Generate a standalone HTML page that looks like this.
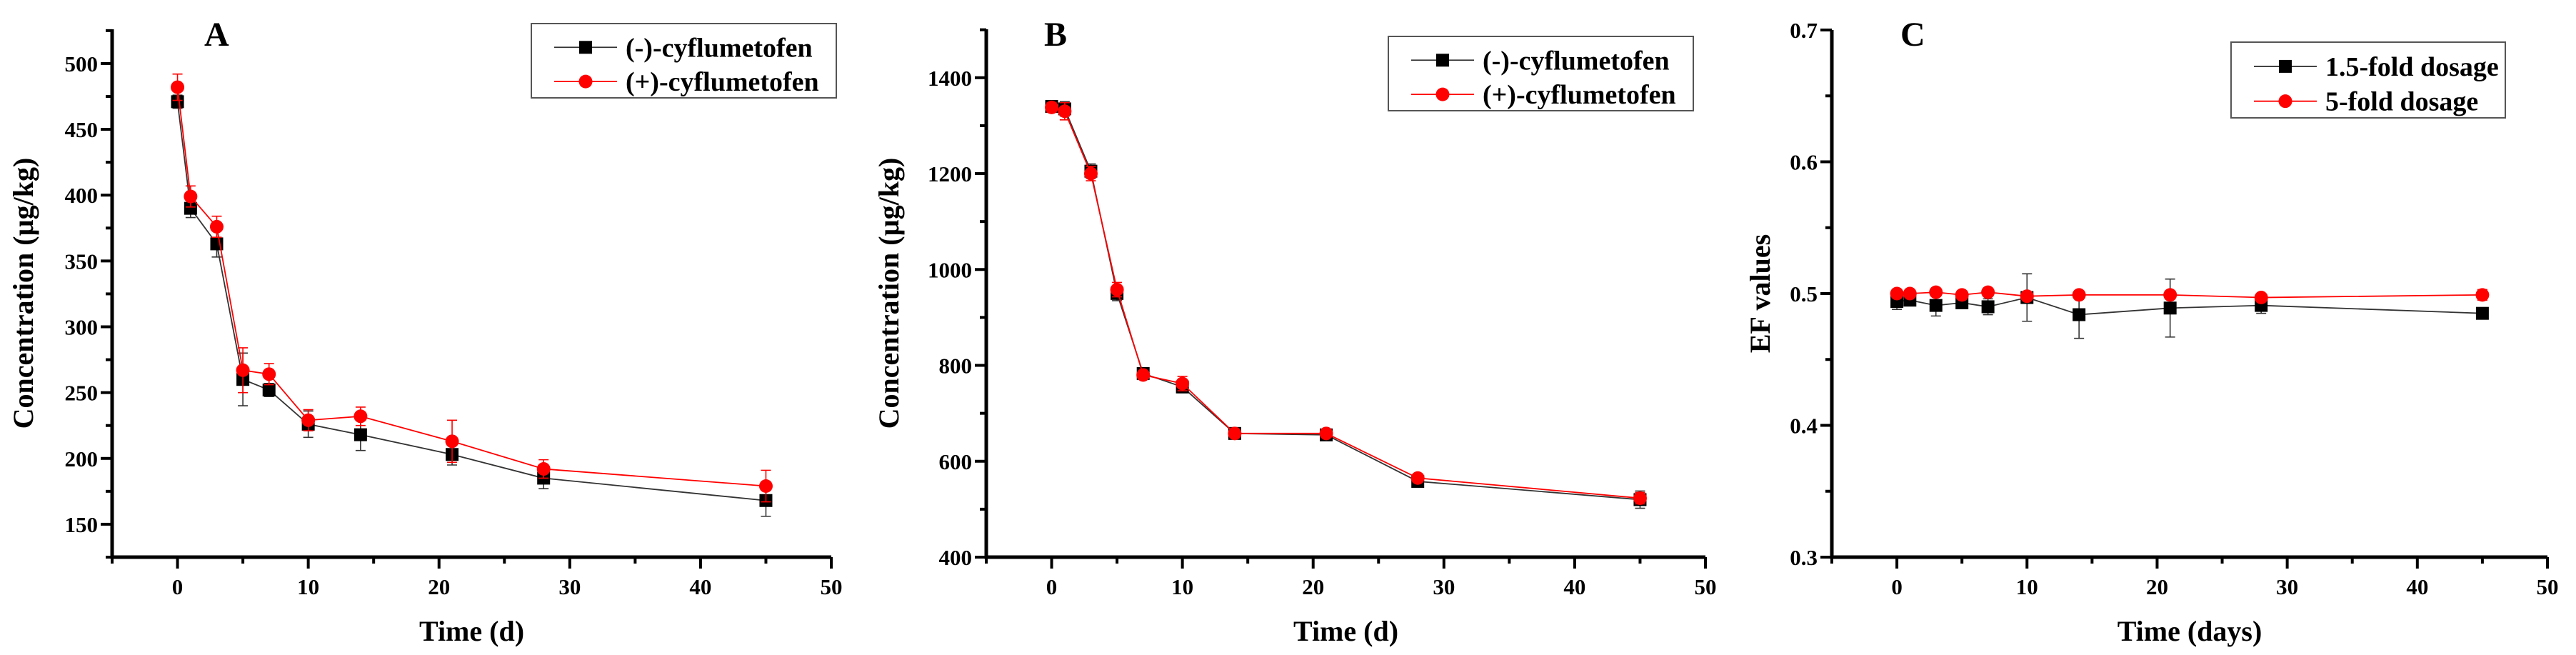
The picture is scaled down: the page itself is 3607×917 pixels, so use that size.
<!DOCTYPE html>
<html><head><meta charset="utf-8"><style>
body{margin:0;background:#fff}
svg{display:block;font-family:"Liberation Serif",serif;font-weight:bold}
</style></head><body>
<svg id="c" width="3607" height="917" viewBox="0 0 3607 917"></svg>
<script>
const days = [0,1,3,5,7,10,14,21,28,45];
const aMinus = [471,390,363,260,252,226,218,203,185,168];
const aMinusErr = [5,7,10,20,5,10,12,8,8,12];
const aPlus = [482,399,376,267,264,229,232,213,192,179];
const aPlusErr = [10,8,8,17,8,8,7,16,7,12];
const bMinus = [1340,1335,1205,950,783,755,658,655,558,520];
const bMinusErr = [10,15,15,15,10,12,8,8,8,18];
const bPlus = [1338,1330,1200,958,780,762,658,658,565,523];
const bPlusErr = [10,18,15,15,8,15,8,8,8,12];
const cLow = [0.494,0.495,0.491,0.493,0.490,0.497,0.484,0.489,0.491,0.485];
const cLowErr = [0.006,0.003,0.008,0.003,0.006,0.018,0.018,0.022,0.006,0];
const cHigh = [0.500,0.500,0.501,0.499,0.501,0.498,0.499,0.499,0.497,0.499];
const cHighErr = [0.002,0.002,0.002,0.002,0.002,0.003,0.002,0.002,0.002,0.004];
const xTicks = [0,10,20,30,40,50];
const aTicks = [150,200,250,300,350,400,450,500];
const bTicks = [400,600,800,1000,1200,1400];
const cTicks = [0.3,0.4,0.5,0.6,0.7];

const svg=document.getElementById('c');
const NS='http://www.w3.org/2000/svg';
function mk(tag,attrs,parent){const e=document.createElementNS(NS,tag);for(const k in attrs)e.setAttribute(k,attrs[k]);(parent||svg).appendChild(e);return e;}

function panel(o){
  const g=mk('g',{});
  
  
  const X=v=>o.x0+(v-(-5))/55*(o.x1-o.x0);
  const Y=v=>o.yb-(v-o.ymin)/(o.ymax-o.ymin)*(o.yb-o.yt);
  const ax=mk('path',{d:`M${o.x0} ${o.yt} V${o.yb} H${o.x1}`,fill:'none',stroke:'#000','stroke-width':5},g);
  
  
  for(let v=-5;v<=50;v+=5){
    const major=v%10===0;
    mk('line',{x1:X(v),x2:X(v),y1:o.yb,y2:o.yb+(major?16:9),stroke:'#000','stroke-width':4},g);
  }
  xTicks.forEach(v=>{const t=mk('text',{x:X(v),y:o.yb+52,'font-size':31,'text-anchor':'middle'},g);t.textContent=v;
    });
  const step=o.yt2-o.yt1;
  for(let v=o.ymin;v<=o.ymax+1e-9;v+=step/2){
    const major=Math.abs(((v-o.yt1)/step)-Math.round((v-o.yt1)/step))<1e-6;
    mk('line',{x1:o.x0,x2:o.x0-(major?16:9),y1:Y(v),y2:Y(v),stroke:'#000','stroke-width':4},g);
  }
  o.ticks.forEach(v=>{const t=mk('text',{x:o.x0-20,y:Y(v)+11,'font-size':31,'text-anchor':'end'},g);t.textContent=o.fmt?o.fmt(v):v;
    });
  const xt=mk('text',{x:(o.x0+o.x1)/2,y:897,'font-size':40,'text-anchor':'middle'},g);xt.textContent=o.xtitle;
  
  const yt=mk('text',{x:0,y:0,'font-size':40,'text-anchor':'middle',transform:`translate(${o.ytx},${(o.yt+o.yb)/2}) rotate(-90)`},g);yt.textContent=o.ytitle;
  
  const lt=mk('text',{x:o.lx,y:64,'font-size':48},g);lt.textContent=o.id;
  
  o.series.forEach((s,si)=>{
    const sg=mk('g',{},g);
    
    
    mk('polyline',{points:days.map((d,i)=>X(d)+','+Y(s.vals[i])).join(' '),fill:'none',stroke:s.line,'stroke-width':1.8},sg);
    days.forEach((d,i)=>{
      const e=s.err[i];
      if(e>0){
        const y1=Y(s.vals[i]+e),y2=Y(s.vals[i]-e),x=X(d);
        mk('path',{d:`M${x} ${y1} V${y2} M${x-7} ${y1} H${x+7} M${x-7} ${y2} H${x+7}`,stroke:s.line,'stroke-width':1.6,fill:'none'},sg);
      }
      let m;
      if(s.shape==='sq') m=mk('rect',{x:X(d)-9,y:Y(s.vals[i])-9,width:18,height:18,fill:s.color},sg);
      else m=mk('circle',{cx:X(d),cy:Y(s.vals[i]),r:9.5,fill:s.color},sg);
      
      
    });
  });
  const L=o.leg;
  const lg=mk('g',{},g);
  
  
  mk('rect',{x:L.x,y:L.y,width:L.w,height:L.h,fill:'#fff',stroke:'#555','stroke-width':2},lg);
  o.series.forEach((s,si)=>{
    const cy=L.y+L.h*(si===0?0.32:0.78);
    const e=mk('g',{},lg);
    
    
    mk('line',{x1:L.x+32,x2:L.x+120,y1:cy,y2:cy,stroke:s.line,'stroke-width':1.8},e);
    if(s.shape==='sq') mk('rect',{x:L.x+67,y:cy-9,width:18,height:18,fill:s.color},e);
    else mk('circle',{cx:L.x+76,cy:cy,r:9.5,fill:s.color},e);
    const t=mk('text',{x:L.x+132,y:cy+13,'font-size':38},e);t.textContent=s.label;
  });
}

panel({id:'A',x0:157,x1:1164,yt:41,yb:780,ymin:125,ymax:526,yt1:150,yt2:200,ticks:aTicks,
  xtitle:'Time (d)',ytitle:'Concentration (\u00b5g/kg)',ytx:46,lx:286,
  leg:{x:744,y:33,w:427,h:104},
  series:[{key:'minus',label:'(-)-cyflumetofen',vals:aMinus,err:aMinusErr,shape:'sq',color:'#000',line:'#333'},
          {key:'plus',label:'(+)-cyflumetofen',vals:aPlus,err:aPlusErr,shape:'ci',color:'#f00',line:'#f00'}]});
panel({id:'B',x0:1381,x1:2388,yt:41,yb:780,ymin:400,ymax:1501,yt1:400,yt2:600,ticks:bTicks,
  xtitle:'Time (d)',ytitle:'Concentration (\u00b5g/kg)',ytx:1258,lx:1462,
  leg:{x:1944,y:51,w:427,h:104},
  series:[{key:'minus',label:'(-)-cyflumetofen',vals:bMinus,err:bMinusErr,shape:'sq',color:'#000',line:'#333'},
          {key:'plus',label:'(+)-cyflumetofen',vals:bPlus,err:bPlusErr,shape:'ci',color:'#f00',line:'#f00'}]});
panel({id:'C',x0:2565,x1:3567,yt:42,yb:780,ymin:0.3,ymax:0.7,yt1:0.3,yt2:0.4,ticks:cTicks,fmt:v=>v.toFixed(1),
  xtitle:'Time (days)',ytitle:'EF values',ytx:2478,lx:2661,
  leg:{x:3124,y:59,w:384,h:106},
  series:[{key:'low',label:'1.5-fold dosage',vals:cLow,err:cLowErr,shape:'sq',color:'#000',line:'#333'},
          {key:'high',label:'5-fold dosage',vals:cHigh,err:cHighErr,shape:'ci',color:'#f00',line:'#f00'}]});
</script>
</body></html>
